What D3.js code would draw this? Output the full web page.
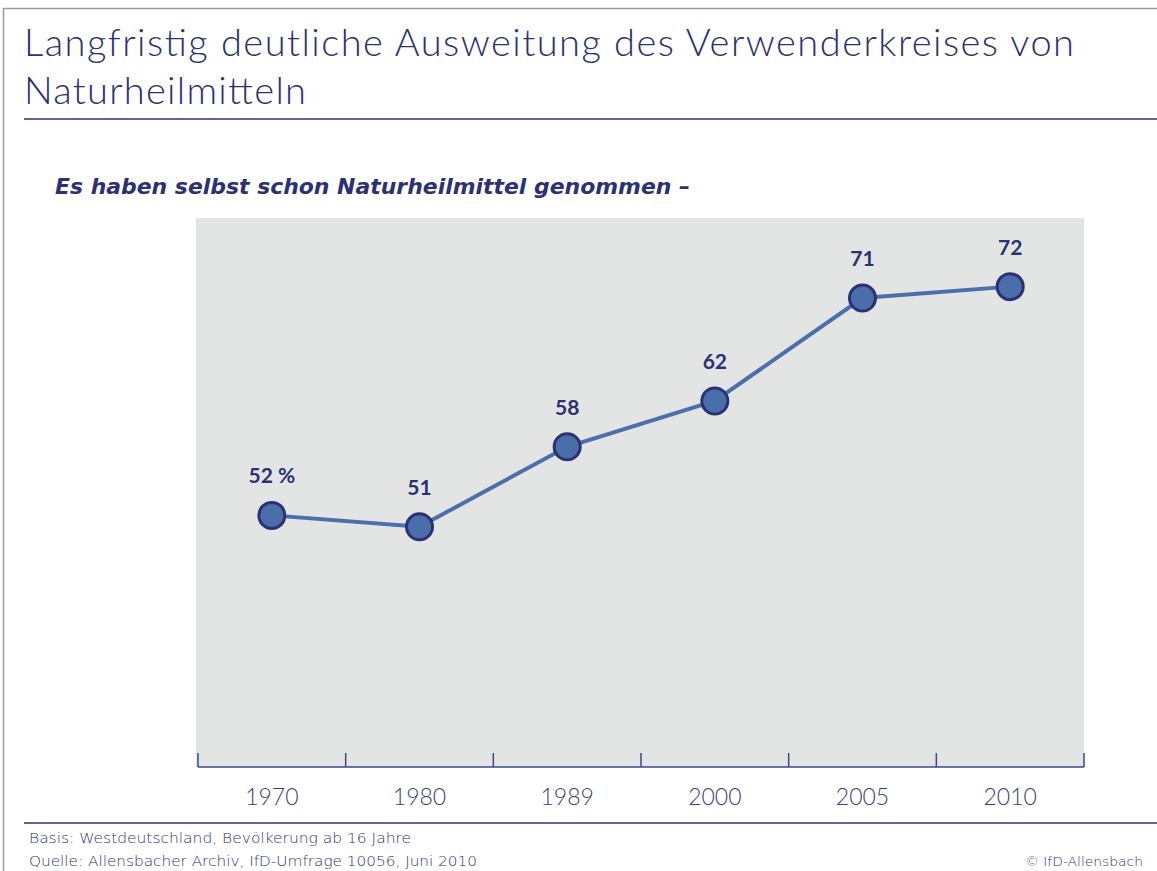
<!DOCTYPE html>
<html lang="de">
<head>
<meta charset="UTF-8">
<title>Naturheilmittel</title>
<script src="https://d3js.org/d3.v7.min.js"></script>
<style>
  body { margin: 0; background: #fff; }
  text { font-family: Lato, "Open Sans", sans-serif; }
</style>
</head>
<body>
<svg id="chart" width="1157" height="871"></svg>
<script>
const years = ["1970", "1980", "1989", "2000", "2005", "2010"];
const values = [52, 51, 58, 62, 71, 72];
const valueLabels = ["52 %", "51", "58", "62", "71", "72"];

const navy = "#2b3174";
const width = 1157, height = 871;

const svg = d3.select("#chart")
  .attr("width", width)
  .attr("height", height);

// frame
svg.append("line").attr("x1", 3).attr("x2", width).attr("y1", 8.5).attr("y2", 8.5)
  .attr("stroke", "#9a9a9a").attr("stroke-width", 1.5);
svg.append("line").attr("x1", 3.5).attr("x2", 3.5).attr("y1", 8).attr("y2", height)
  .attr("stroke", "#9a9a9a").attr("stroke-width", 1.5);

// title (stretched to the width of the original's wider typeface)
svg.append("text")
  .attr("x", 24).attr("y", 56)
  .attr("fill", navy)
  .attr("textLength", 1050).attr("lengthAdjust", "spacing")
  .style("font-size", "38px").style("font-weight", 300)
  .text("Langfristig deutliche Ausweitung des Verwenderkreises von");
svg.append("text")
  .attr("x", 24).attr("y", 104)
  .attr("fill", navy)
  .attr("textLength", 282).attr("lengthAdjust", "spacing")
  .style("font-size", "38px").style("font-weight", 300)
  .text("Naturheilmitteln");

svg.append("line").attr("x1", 24).attr("x2", width).attr("y1", 119).attr("y2", 119)
  .attr("stroke", navy).attr("stroke-width", 1.5);

// subtitle
svg.append("text")
  .attr("x", 55).attr("y", 194)
  .attr("fill", navy)
  .attr("textLength", 635).attr("lengthAdjust", "spacingAndGlyphs")
  .style("font-family", "'DejaVu Sans', sans-serif")
  .style("font-size", "22px")
  .style("font-weight", 700)
  .style("font-style", "italic")
  .text("Es haben selbst schon Naturheilmittel genommen \u2013");

// plot area
const plotLeft = 198, plotRight = 1084, plotTop = 218, plotBottom = 767;

const x = d3.scaleBand().domain(years).range([plotLeft, plotRight]);
const y = d3.scaleLinear().domain([30, 78]).range([plotBottom, plotTop]);

svg.append("rect")
  .attr("x", plotLeft - 2).attr("y", plotTop)
  .attr("width", plotRight - plotLeft + 2).attr("height", plotBottom - plotTop)
  .attr("fill", "#e3e5e4");

// axis: baseline + band boundary ticks
const axisColor = "#3d4888";
svg.append("line").attr("x1", plotLeft).attr("x2", plotRight).attr("y1", plotBottom).attr("y2", plotBottom)
  .attr("stroke", axisColor).attr("stroke-width", 1.5);

const boundaries = years.map(d => x(d)).concat([x(years[years.length - 1]) + x.bandwidth()]);
svg.selectAll(".tick-line")
  .data(boundaries)
  .enter().append("line")
  .attr("x1", d => d).attr("x2", d => d)
  .attr("y1", plotBottom - 14).attr("y2", plotBottom)
  .attr("stroke", axisColor).attr("stroke-width", 1.5);

svg.selectAll(".year")
  .data(years)
  .enter().append("text")
  .attr("x", d => x(d) + x.bandwidth() / 2)
  .attr("y", 805)
  .attr("text-anchor", "middle")
  .attr("fill", "#3a4080")
  .style("font-size", "23px")
  .style("font-weight", 300)
  .text(d => d);

// line
const points = years.map((d, i) => ({ year: d, value: values[i], label: valueLabels[i] }));
const line = d3.line()
  .x(d => x(d.year) + x.bandwidth() / 2)
  .y(d => y(d.value));

svg.append("path")
  .datum(points)
  .attr("d", line)
  .attr("fill", "none")
  .attr("stroke", "#4a6fab")
  .attr("stroke-width", 4);

svg.selectAll(".dot")
  .data(points)
  .enter().append("circle")
  .attr("cx", d => x(d.year) + x.bandwidth() / 2)
  .attr("cy", d => y(d.value))
  .attr("r", 13)
  .attr("fill", "#4a6ea9")
  .attr("stroke", navy)
  .attr("stroke-width", 3);

svg.selectAll(".val")
  .data(points)
  .enter().append("text")
  .attr("x", d => x(d.year) + x.bandwidth() / 2)
  .attr("y", d => y(d.value) - 32)
  .attr("text-anchor", "middle")
  .attr("fill", navy)
  .style("font-size", "21px")
  .style("font-weight", 700)
  .text(d => d.label);

// footer
svg.append("line").attr("x1", 24).attr("x2", width).attr("y1", 823).attr("y2", 823)
  .attr("stroke", navy).attr("stroke-width", 1.5);

const footColor = "#2e3578";
const footFont = "'DejaVu Sans', sans-serif";
svg.append("text").attr("x", 29).attr("y", 843).attr("fill", footColor)
  .attr("textLength", 382).attr("lengthAdjust", "spacingAndGlyphs")
  .style("font-family", footFont).style("font-size", "14px").style("font-weight", 300)
  .text("Basis: Westdeutschland, Bevölkerung ab 16 Jahre");
svg.append("text").attr("x", 29).attr("y", 866).attr("fill", footColor)
  .attr("textLength", 448).attr("lengthAdjust", "spacingAndGlyphs")
  .style("font-family", footFont).style("font-size", "14px").style("font-weight", 300)
  .text("Quelle: Allensbacher Archiv, IfD-Umfrage 10056, Juni 2010");
svg.append("text").attr("x", 1025).attr("y", 866).attr("fill", footColor)
  .attr("textLength", 118).attr("lengthAdjust", "spacingAndGlyphs")
  .style("font-family", footFont).style("font-size", "13px").style("font-weight", 300)
  .text("\u00a9 IfD-Allensbach");
</script>
</body>
</html>
